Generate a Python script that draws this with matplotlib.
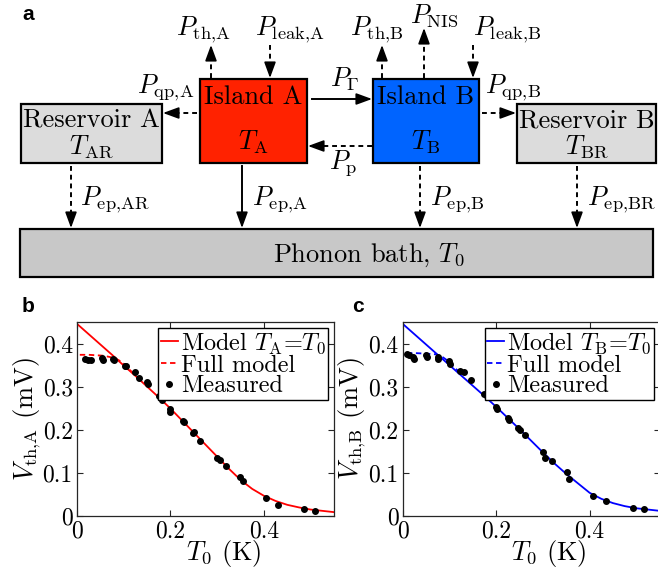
import matplotlib
matplotlib.use('Agg')
import matplotlib.pyplot as plt
from matplotlib.patches import Rectangle

plt.rcParams['font.family'] = 'serif'
plt.rcParams['font.serif'] = ['cmr10']
plt.rcParams['mathtext.fontset'] = 'cm'
plt.rcParams['axes.formatter.use_mathtext'] = True

# ---- data ----
# panel b: island A
t_meas_a = [0.017, 0.024, 0.031, 0.054, 0.055, 0.078, 0.080, 0.103, 0.104, 0.125,
            0.133, 0.150, 0.151, 0.175, 0.181, 0.199, 0.200, 0.227, 0.228, 0.248,
            0.250, 0.264, 0.300, 0.305, 0.318, 0.349, 0.355, 0.405, 0.431, 0.486, 0.510]
v_meas_a = [0.366, 0.364, 0.362, 0.367, 0.364, 0.366, 0.362, 0.350, 0.348, 0.335,
            0.322, 0.311, 0.307, 0.278, 0.271, 0.250, 0.241, 0.220, 0.219, 0.194,
            0.196, 0.174, 0.136, 0.130, 0.116, 0.091, 0.081, 0.043, 0.025, 0.016, 0.012]
t_model_a = [0.0, 0.025, 0.05, 0.075, 0.1, 0.125, 0.15, 0.175, 0.2, 0.225, 0.25, 0.275,
             0.3, 0.325, 0.35, 0.375, 0.4, 0.425, 0.45, 0.475, 0.5, 0.525, 0.55]
v_model_a = [0.447, 0.423, 0.399, 0.375, 0.350, 0.326, 0.301, 0.276, 0.250, 0.222,
             0.194, 0.166, 0.138, 0.110, 0.084, 0.063, 0.047, 0.035, 0.026, 0.020,
             0.015, 0.012, 0.009]
t_full_a = [0.006, 0.025, 0.04, 0.055, 0.07, 0.08, 0.09, 0.1, 0.11, 0.125]
v_full_a = [0.375, 0.375, 0.374, 0.373, 0.370, 0.367, 0.362, 0.354, 0.343, 0.327]

# panel c: island B
t_meas_b = [0.010, 0.014, 0.023, 0.024, 0.050, 0.051, 0.075, 0.076, 0.100, 0.101,
            0.123, 0.131, 0.146, 0.175, 0.181, 0.200, 0.201, 0.226, 0.227, 0.246,
            0.251, 0.262, 0.300, 0.305, 0.320, 0.352, 0.356, 0.407, 0.436, 0.492, 0.517]
v_meas_b = [0.377, 0.374, 0.369, 0.366, 0.374, 0.370, 0.370, 0.366, 0.360, 0.354,
            0.338, 0.336, 0.316, 0.284, 0.278, 0.253, 0.250, 0.228, 0.224, 0.204,
            0.200, 0.188, 0.148, 0.136, 0.129, 0.102, 0.086, 0.047, 0.035, 0.019, 0.017]
t_model_b = [0.0, 0.025, 0.05, 0.075, 0.1, 0.125, 0.15, 0.175, 0.2, 0.225, 0.25, 0.275,
             0.3, 0.325, 0.35, 0.375, 0.4, 0.425, 0.45, 0.475, 0.5, 0.525, 0.55]
v_model_b = [0.447, 0.423, 0.399, 0.375, 0.351, 0.327, 0.303, 0.279, 0.254, 0.228,
             0.202, 0.175, 0.148, 0.122, 0.098, 0.076, 0.054, 0.040, 0.030, 0.023,
             0.018, 0.015, 0.012]
t_full_b = [0.009, 0.025, 0.045, 0.06, 0.072, 0.085, 0.098, 0.108, 0.12]
v_full_b = [0.379, 0.379, 0.378, 0.377, 0.376, 0.370, 0.360, 0.348, 0.336]

x_ticks = [0, 0.2, 0.4]
x_ticklabels = ['0', '0.2', '0.4']
y_ticks = [0, 0.1, 0.2, 0.3, 0.4]
y_ticklabels = ['0', '0.1', '0.2', '0.3', '0.4']

RED = '#ff2200'
BLUE = '#0064ff'

fig = plt.figure(figsize=(6.58, 5.73), dpi=100)

# ---- panel a: heat-flow diagram, drawn in pixel coordinates ----
ax0 = fig.add_axes([0, 0, 1, 1])
ax0.set_xlim(0, 658)
ax0.set_ylim(573, 0)
ax0.axis('off')

FS = 19


def box(x0, y0, x1, y1, fc):
    ax0.add_patch(Rectangle((x0, y0), x1 - x0, y1 - y0, fc=fc, ec='black', lw=1.6, zorder=2))


def arrow(x0, y0, x1, y1, dashed=True):
    dx, dy = x1 - x0, y1 - y0
    n = (dx ** 2 + dy ** 2) ** 0.5
    ux, uy = dx / n, dy / n
    ax0.plot([x0, x1 - 6 * ux], [y0, y1 - 6 * uy], color='black', lw=1.4,
             ls=(0, (2.5, 2.0)) if dashed else '-', zorder=3)
    ax0.annotate('', xy=(x1, y1), xytext=(x1 - 10 * ux, y1 - 10 * uy),
                 arrowprops=dict(arrowstyle='-|>,head_length=0.6,head_width=0.22',
                                 color='black', lw=1.2, mutation_scale=16,
                                 shrinkA=0, shrinkB=0), zorder=4)


box(21, 104, 162, 163, '#dcdcdc')
box(200, 79, 307, 163, RED)
box(373, 79, 479, 163, BLUE)
box(517, 104, 656, 163, '#dcdcdc')
box(20, 229, 653, 277, '#c8c8c8')

ax0.text(91.5, 121, 'Reservoir A', fontsize=FS, ha='center', va='center', zorder=5)
ax0.text(91.5, 147, r'$T_{\rm AR}$', fontsize=FS, ha='center', va='center', zorder=5)
ax0.text(253.5, 97, 'Island A', fontsize=FS, ha='center', va='center', zorder=5)
ax0.text(253.5, 142, r'$T_{\rm A}$', fontsize=FS, ha='center', va='center', zorder=5)
ax0.text(426, 97, 'Island B', fontsize=FS, ha='center', va='center', zorder=5)
ax0.text(426, 142, r'$T_{\rm B}$', fontsize=FS, ha='center', va='center', zorder=5)
ax0.text(586.5, 121, 'Reservoir B', fontsize=FS, ha='center', va='center', zorder=5)
ax0.text(586.5, 147, r'$T_{\rm BR}$', fontsize=FS, ha='center', va='center', zorder=5)
ax0.text(369, 255, r'Phonon bath, $T_0$', fontsize=FS, ha='center', va='center', zorder=5)

arrow(211, 78, 211, 45)
arrow(270, 45, 270, 78)
arrow(197, 113, 163, 113)
arrow(312, 99, 372, 99, dashed=False)
arrow(372, 146, 308, 146)
arrow(382, 78, 382, 45)
arrow(424, 78, 424, 28)
arrow(473, 45, 473, 78)
arrow(482, 113, 516, 113)
arrow(71, 166, 71, 228)
arrow(242, 166, 242, 228, dashed=False)
arrow(420, 166, 420, 228)
arrow(577, 166, 577, 228)

labels = [
    (203, 30, r'$P_{\rm th{,}A}$', 'center'),
    (290, 30, r'$P_{\rm leak{,}A}$', 'center'),
    (166, 88, r'$P_{\rm qp{,}A}$', 'center'),
    (345, 79, r'$P_{\Gamma}$', 'center'),
    (343, 163, r'$P_{\rm p}$', 'center'),
    (377, 30, r'$P_{\rm th{,}B}$', 'center'),
    (434, 16, r'$P_{\rm NIS}$', 'center'),
    (507, 30, r'$P_{\rm leak{,}B}$', 'center'),
    (513, 88, r'$P_{\rm qp{,}B}$', 'center'),
    (80, 200, r'$P_{\rm ep{,}AR}$', 'left'),
    (252, 200, r'$P_{\rm ep{,}A}$', 'left'),
    (430, 200, r'$P_{\rm ep{,}B}$', 'left'),
    (587, 200, r'$P_{\rm ep{,}BR}$', 'left'),
]
for x, y, s, ha in labels:
    ax0.text(x, y, s, fontsize=FS, ha=ha, va='center', zorder=5)

for x, y, s in [(22, 15, 'a'), (22, 306, 'b'), (352, 306, 'c')]:
    ax0.text(x, y, s, fontsize=15, fontweight='bold', family='Liberation Sans',
             ha='left', va='center')


# ---- panels b and c ----
def panel(rect, t_model, v_model, t_full, v_full, t_meas, v_meas, color, isl):
    ax = fig.add_axes(rect)
    ax.plot(t_model, v_model, color=color, lw=1.3, label=r'Model $T_{\rm %s}$=$T_0$' % isl)
    ax.plot(t_full, v_full, color=color, lw=1.3, ls=(0, (3, 2)), label='Full model')
    ax.plot(t_meas, v_meas, ls='none', marker='o', ms=4, color='black', label='Measured')
    ax.set_xlim(0, 0.55)
    ax.set_ylim(0, 0.452)
    ax.set_xticks(x_ticks)
    ax.set_xticklabels(x_ticklabels)
    ax.set_yticks(y_ticks)
    ax.set_yticklabels(y_ticklabels)
    ax.tick_params(direction='in', top=True, right=True, length=4, width=0.8,
                   labelsize=17, pad=3, colors='#262626', labelcolor='black')
    for sp in ax.spines.values():
        sp.set_color('#262626')
        sp.set_linewidth(0.9)
    ax.set_xlabel(r'$T_0$ (K)', fontsize=19, labelpad=-3)
    ax.xaxis.label.set_x(0.57)
    ax.set_ylabel(r'$V_{\rm th{,}%s}$ (mV)' % isl, fontsize=19, labelpad=0)
    leg = ax.legend(loc='upper right', fontsize=17.5, handlelength=0.7, handletextpad=0.12,
                    borderpad=0.1, labelspacing=-0.05, borderaxespad=0.25,
                    fancybox=False, framealpha=1, edgecolor='black')
    leg.get_frame().set_linewidth(1.0)
    return ax


panel([77 / 658, 57 / 573, 257 / 658, 194.3 / 573], t_model_a, v_model_a, t_full_a, v_full_a,
      t_meas_a, v_meas_a, 'red', 'A')
panel([402.7 / 658, 57 / 573, 257 / 658, 194.3 / 573], t_model_b, v_model_b, t_full_b, v_full_b,
      t_meas_b, v_meas_b, 'blue', 'B')

fig.savefig('out.png', dpi=100)
